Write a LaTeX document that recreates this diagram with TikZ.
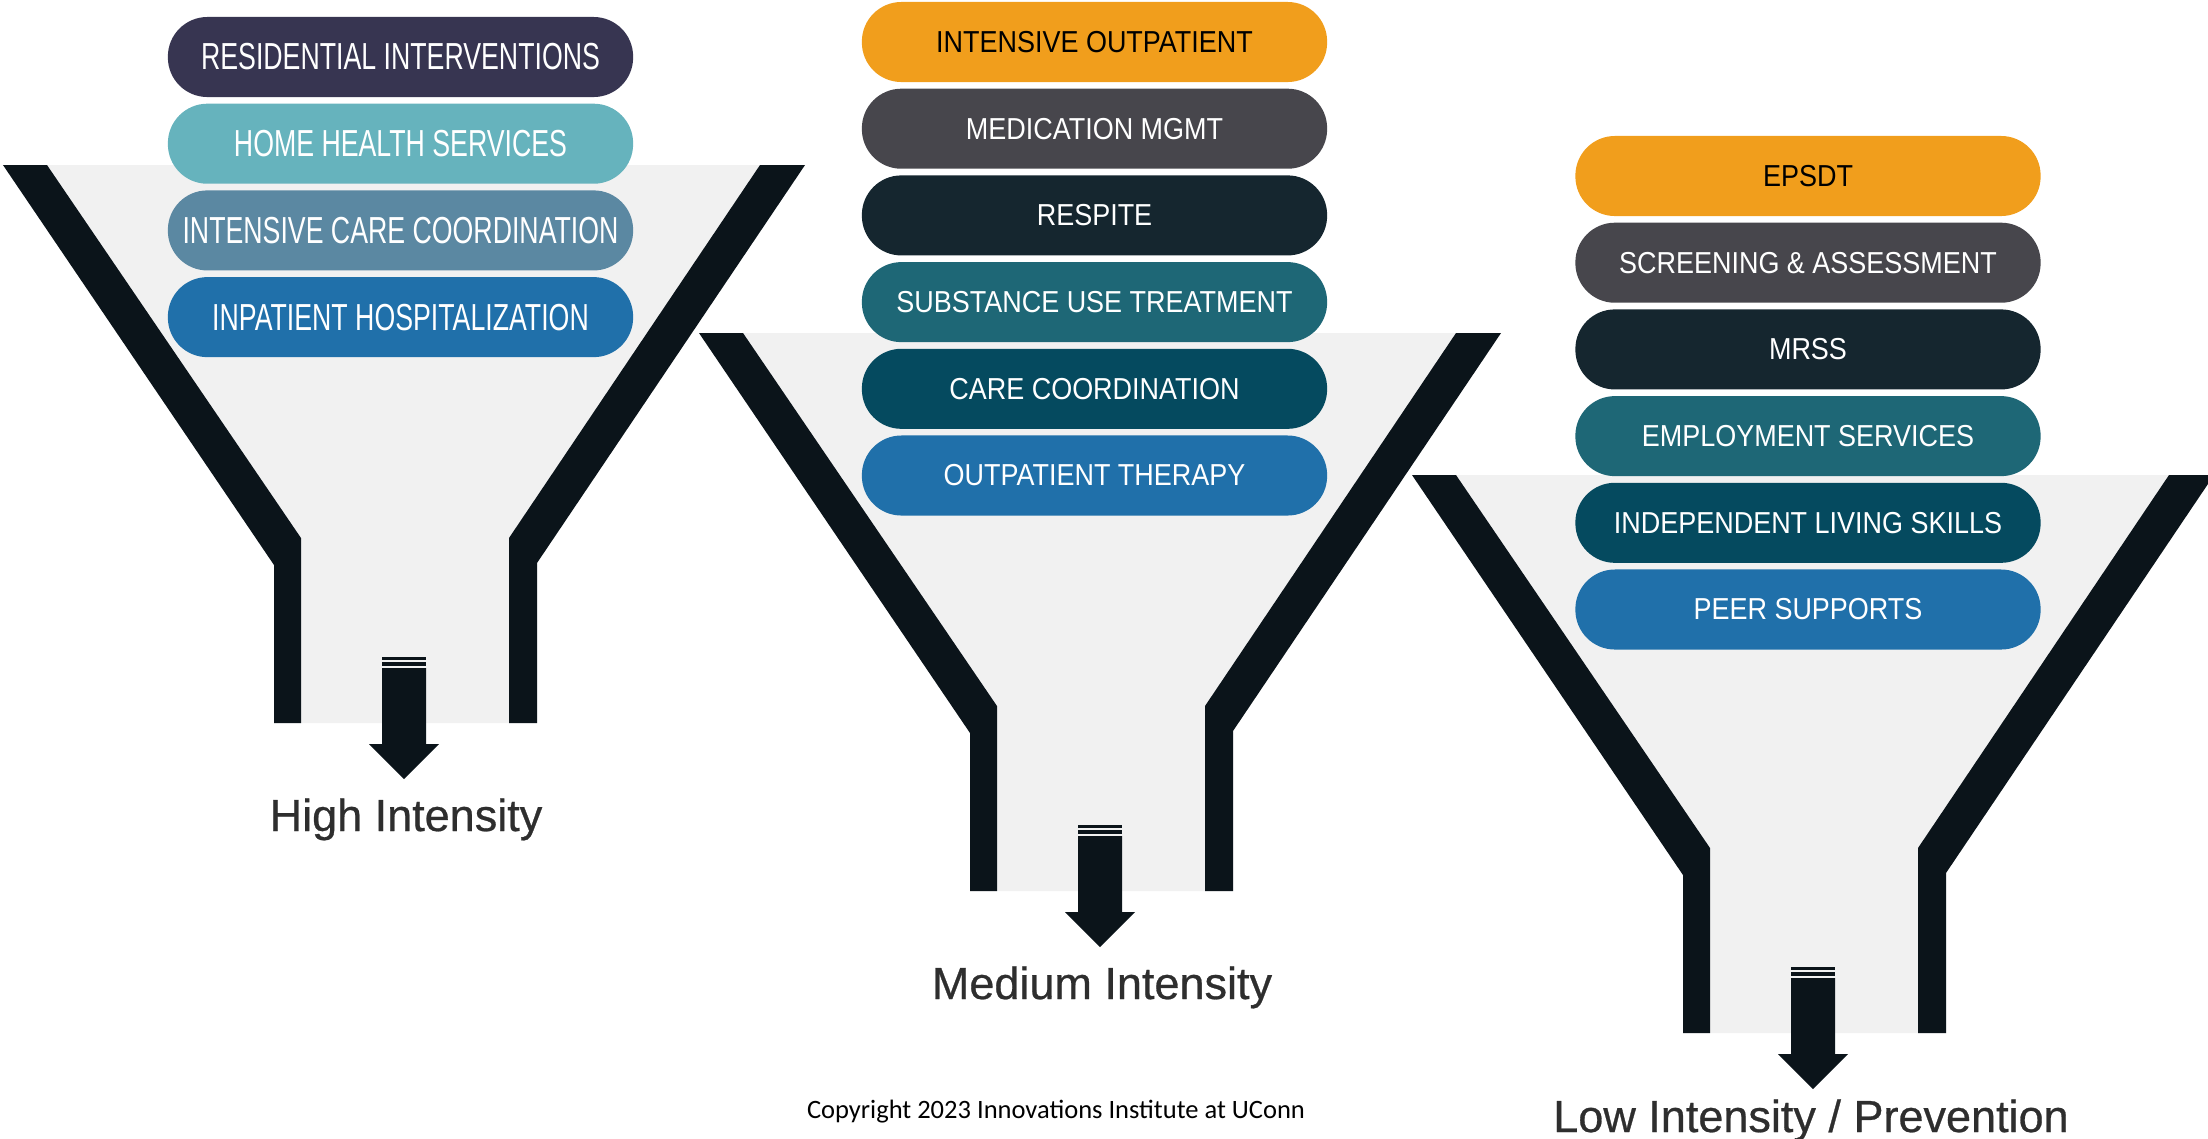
\documentclass[tikz,border=0pt]{standalone}
\usepackage{fontspec}
\setmainfont{Liberation Sans}
\newfontfamily\pillAfont[FakeStretch=0.71]{Liberation Sans}
\newfontfamily\pillBfont[FakeStretch=0.89]{Liberation Sans}
\newfontfamily\lblfont[FakeBold=0.6]{Liberation Sans}
\newfontfamily\copyfont{Carlito}
\definecolor{funneldark}{HTML}{0B141A}
\definecolor{funnelgray}{HTML}{F1F1F1}
\definecolor{labelgray}{HTML}{2E2E2E}
\definecolor{cindigo}{HTML}{373551}
\definecolor{cteallight}{HTML}{66B3BD}
\definecolor{csteel}{HTML}{5B88A2}
\definecolor{cblue}{HTML}{2070AA}
\definecolor{corange}{HTML}{F19E1C}
\definecolor{cgraydark}{HTML}{47464C}
\definecolor{cnight}{HTML}{15262F}
\definecolor{cteal}{HTML}{1E6776}
\definecolor{cpetrol}{HTML}{054A5F}
\tikzset{
  pill/.style={minimum width=4.65cm, minimum height=0.80cm, rounded corners=0.395cm,
    inner sep=0pt, text=white, align=center},
  pillone/.style={pill, font=\pillAfont\fontsize{10.7}{12}\selectfont},
  pilltwo/.style={pill, font=\pillBfont\fontsize{8.62}{10}\selectfont},
  lbl/.style={anchor=base, text=labelgray, font=\lblfont\fontsize{12.8}{15}\selectfont, inner sep=0pt},
}
\newcommand\funnelbody{%
  \fill[funnelgray] (3,165) -- (805,165) -- (537,563) -- (537,723) -- (274,723) -- (274,565) -- cycle;
  \fill[funneldark] (3,165) -- (47,165) -- (301,538) -- (301,723) -- (274,723) -- (274,565) -- cycle;
  \fill[funneldark] (760,165) -- (805,165) -- (537,563) -- (537,723) -- (509,723) -- (509,538) -- cycle;
  \fill[funneldark] (382,657) rectangle (426,659.5);
  \fill[funneldark] (382,661.5) rectangle (426,666);
  \fill[funneldark] (382,668) -- (426,668) -- (426,744) -- (439,744) -- (404,779) -- (369,744) -- (382,744) -- cycle;
}
\begin{document}
\begin{tikzpicture}[x=0.01cm, y=-0.01cm]
\useasboundingbox (0,0) rectangle (2208,1138);
\clip (0,0) rectangle (2208,1138);
% funnels
\begin{scope}\funnelbody\end{scope}
\begin{scope}[shift={(696,168)}]\funnelbody\end{scope}
\begin{scope}[shift={(1409,310)}]\funnelbody\end{scope}
% funnel 1 pills
\node[pillone, fill=cindigo]    (a1) at (400.5,57)    {RESIDENTIAL INTERVENTIONS};
\node[pillone, fill=cteallight] (a2) at (400.5,143.7) {HOME HEALTH SERVICES};
\node[pillone, fill=csteel]     (a3) at (400.5,230.4) {INTENSIVE CARE COORDINATION};
\node[pillone, fill=cblue]      (a4) at (400.5,317.1) {INPATIENT HOSPITALIZATION};
% funnel 2 pills
\node[pilltwo, fill=corange, text=black] (b1) at (1094.5,42)    {INTENSIVE OUTPATIENT};
\node[pilltwo, fill=cgraydark]           (b2) at (1094.5,128.7) {MEDICATION MGMT};
\node[pilltwo, fill=cnight]              (b3) at (1094.5,215.4) {RESPITE};
\node[pilltwo, fill=cteal]               (b4) at (1094.5,302.1) {SUBSTANCE USE TREATMENT};
\node[pilltwo, fill=cpetrol]             (b5) at (1094.5,388.8) {CARE COORDINATION};
\node[pilltwo, fill=cblue]               (b6) at (1094.5,475.5) {OUTPATIENT THERAPY};
% funnel 3 pills
\node[pilltwo, fill=corange, text=black] (c1) at (1808,176)   {EPSDT};
\node[pilltwo, fill=cgraydark]           (c2) at (1808,262.7) {SCREENING \& ASSESSMENT};
\node[pilltwo, fill=cnight]              (c3) at (1808,349.4) {MRSS};
\node[pilltwo, fill=cteal]               (c4) at (1808,436.1) {EMPLOYMENT SERVICES};
\node[pilltwo, fill=cpetrol]             (c5) at (1808,522.8) {INDEPENDENT LIVING SKILLS};
\node[pilltwo, fill=cblue]               (c6) at (1808,609.5) {PEER SUPPORTS};
% labels
\node[lbl] (l1) at (406,831)  {High Intensity};
\node[lbl] (l2) at (1102,999) {Medium Intensity};
\node[lbl] (l3) at (1811,1132) {Low Intensity / Prevention};
\node[anchor=base, inner sep=0pt, font=\copyfont\fontsize{7.54}{9}\selectfont] (cr) at (1056,1118) {Copyright 2023 Innovations Institute at UConn};
\end{tikzpicture}
\end{document}
